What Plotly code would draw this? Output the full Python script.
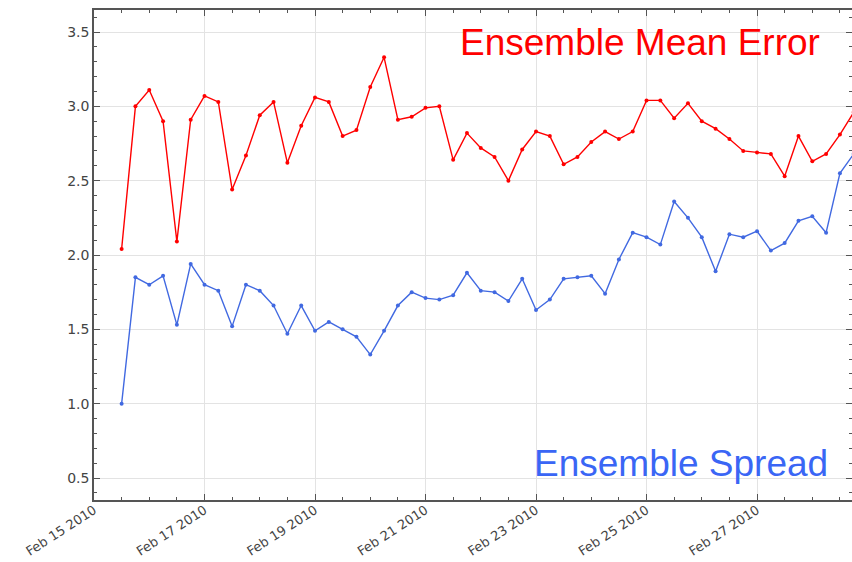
import pandas as pd
import plotly.graph_objects as go

# 6-hourly verification times
times = pd.date_range("2010-02-15 12:00", periods=54, freq="6h")

mean_error = [2.04, 3.00, 3.11, 2.90, 2.09, 2.91, 3.07, 3.03, 2.44, 2.67, 2.94, 3.03, 2.62,
              2.87, 3.06, 3.03, 2.80, 2.84, 3.13, 3.33, 2.91, 2.93, 2.99, 3.00, 2.64, 2.82, 2.72,
              2.66, 2.50, 2.71, 2.83, 2.80, 2.61, 2.66, 2.76, 2.83, 2.78, 2.83, 3.04, 3.04,
              2.92, 3.02, 2.90, 2.85, 2.78, 2.70, 2.69, 2.68, 2.53, 2.80, 2.63, 2.68, 2.81, 2.96]

spread = [1.00, 1.85, 1.80, 1.86, 1.53, 1.94, 1.80, 1.76, 1.52, 1.80, 1.76, 1.66, 1.47,
          1.66, 1.49, 1.55, 1.50, 1.45, 1.33, 1.49, 1.66, 1.75, 1.71, 1.70, 1.73, 1.88, 1.76,
          1.75, 1.69, 1.84, 1.63, 1.70, 1.84, 1.85, 1.86, 1.74, 1.97, 2.15, 2.12, 2.07,
          2.36, 2.25, 2.12, 1.89, 2.14, 2.12, 2.16, 2.03, 2.08, 2.23, 2.26, 2.15, 2.55, 2.68]

y_ticks = [0.5, 1.0, 1.5, 2.0, 2.5, 3.0, 3.5]

RED = "#ff0000"
BLUE = "#4169e1"
AXIS = "#555555"

fig = go.Figure()
fig.add_trace(go.Scatter(x=times, y=mean_error, mode="lines+markers",
                         line=dict(color=RED, width=1.4),
                         marker=dict(color=RED, size=4), name="Ensemble Mean Error"))
fig.add_trace(go.Scatter(x=times, y=spread, mode="lines+markers",
                         line=dict(color=BLUE, width=1.4),
                         marker=dict(color=BLUE, size=4), name="Ensemble Spread"))

fig.add_annotation(text="Ensemble Mean Error", xref="paper", yref="paper",
                   x=0.961, y=0.979, xanchor="right", yanchor="top", showarrow=False,
                   font=dict(family="Liberation Sans, Arial", size=37, color=RED))
fig.add_annotation(text="Ensemble Spread", xref="paper", yref="paper",
                   x=0.971, y=0.0755, xanchor="right", yanchor="middle", showarrow=False,
                   font=dict(family="Liberation Sans, Arial", size=37, color="#3a66f5"))

fig.update_layout(
    width=852, height=562,
    margin=dict(l=94, r=0, t=10, b=62, autoexpand=False),
    paper_bgcolor="white", plot_bgcolor="white",
    showlegend=False,
    font=dict(family="DejaVu Sans", size=13, color="#444444"),
)

fig.update_xaxes(
    type="date",
    automargin=False,
    range=["2010-02-15 00:00", "2010-02-28 17:15"],
    tick0="2010-02-15", dtick=2 * 86400000,
    tickformat="%b %d %Y", tickangle=-33,
    ticks="inside", ticklen=6, tickcolor=AXIS,
    ticklabelstandoff=-4,
    showline=True, linecolor=AXIS, linewidth=1.5, mirror="allticks",
    showgrid=True, gridcolor="#e3e3e3", gridwidth=1,
    minor=dict(ticks="inside", ticklen=3, dtick=43200000, tickcolor=AXIS, showgrid=False),
    tickfont=dict(family="DejaVu Sans", size=13, color="#444444"),
    zeroline=False,
)
fig.update_yaxes(
    automargin=False,
    range=[0.352, 3.648],
    tickvals=y_ticks, ticktext=[f"{v:.1f}" for v in y_ticks],
    ticks="inside", ticklen=6, tickcolor=AXIS,
    showline=True, linecolor=AXIS, linewidth=1.5, mirror="allticks",
    showgrid=True, gridcolor="#e3e3e3", gridwidth=1,
    minor=dict(ticks="inside", ticklen=3, dtick=0.1, tick0=0, tickcolor=AXIS, showgrid=False),
    tickfont=dict(family="DejaVu Sans", size=14, color="#444444"),
    zeroline=False,
)

fig.write_html("out.html")
